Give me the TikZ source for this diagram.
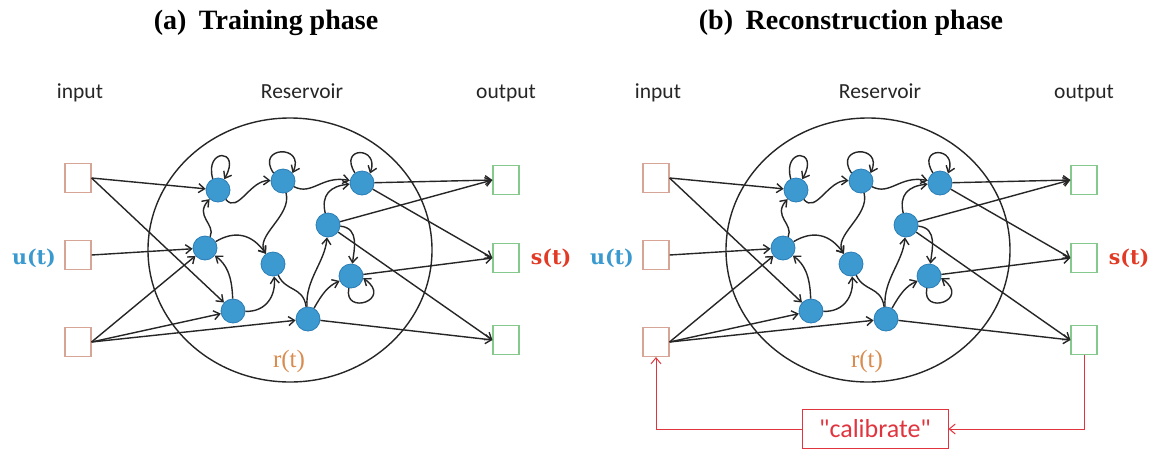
\documentclass[tikz,border=0pt]{standalone}
\usepackage{fontspec}
\setmainfont{Liberation Serif}
\newfontfamily\calfont{Carlito}
\newfontfamily\slabfont{DejaVu Serif}
\usetikzlibrary{arrows.meta}
\definecolor{edgec}{HTML}{262626}
\definecolor{nodeblue}{HTML}{3D9AD1}
\definecolor{nodeedge}{HTML}{2B7DB5}
\definecolor{ublue}{HTML}{3A9AD0}
\definecolor{sred}{HTML}{E23A24}
\definecolor{rorange}{HTML}{D98C4F}
\definecolor{inbrown}{HTML}{D6A596}
\definecolor{outgreen}{HTML}{86C98C}
\definecolor{calred}{HTML}{E0353F}
\tikzset{
  rnode/.style={circle,fill=nodeblue,draw=nodeedge,line width=0.8pt,minimum size=24pt,inner sep=0pt},
  inbox/.style={rectangle,draw=inbrown,line width=1.1pt,minimum width=26pt,minimum height=29pt,inner sep=0pt},
  outbox/.style={rectangle,draw=outgreen,line width=1.1pt,minimum width=26pt,minimum height=29pt,inner sep=0pt},
  link/.style={draw=edgec,line width=1.4pt,-{Straight Barb[length=6pt,width=9pt]}},
  plainlink/.style={draw=edgec,line width=1.4pt},
  lab/.style={font=\calfont\fontsize{21.5}{25}\selectfont,text=black!85,inner sep=0pt},
  ttl/.style={font=\bfseries\fontsize{28}{32}\selectfont,inner sep=0pt},
  utxt/.style={font=\slabfont\bfseries\fontsize{20.5}{24}\selectfont,text=ublue,inner sep=0pt},
  stxt/.style={font=\slabfont\bfseries\fontsize{20.5}{24}\selectfont,text=sred,inner sep=0pt},
  rtxt/.style={font=\fontsize{25}{29}\selectfont,text=rorange,inner sep=0pt},
  calbox/.style={rectangle,draw=calred,line width=1pt,minimum width=146pt,minimum height=39pt,inner sep=0pt,text=calred,font=\calfont\fontsize{26}{30}\selectfont},
  callink/.style={draw=calred,line width=1pt,-{Straight Barb[length=6pt,width=10pt]}},
}
\newcommand\rcpanel[1]{%
  \draw[edgec,line width=1.4pt] (290,250) ellipse [x radius=142, y radius=132];
  \node[lab] (#1tin) at (80,93) {input};
  \node[lab] (#1tres) at (302,91) {Reservoir};
  \node[lab] (#1tout) at (506,93) {output};
  \node[inbox] (#1i1) at (78,178) {};
  \node[inbox] (#1i2) at (78,255) {};
  \node[inbox] (#1i3) at (78,342) {};
  \node[outbox] (#1o1) at (506,180) {};
  \node[outbox] (#1o2) at (506,258) {};
  \node[outbox] (#1o3) at (506,340) {};
  \node[utxt] (#1u) at (34,258) {u(t)};
  \node[stxt] (#1s) at (551,258) {s(t)};
  \node[rtxt] (#1r) at (289,361) {r(t)};
  \node[rnode] (#1n1) at (218,190) {};
  \node[rnode] (#1n2) at (283,181) {};
  \node[rnode] (#1n3) at (362,183) {};
  \node[rnode] (#1n4) at (205,248) {};
  \node[rnode] (#1n5) at (273,264) {};
  \node[rnode] (#1n6) at (328,225) {};
  \node[rnode] (#1n7) at (351,276) {};
  \node[rnode] (#1n8) at (233,311) {};
  \node[rnode] (#1n9) at (308,319) {};
  % inputs
  \draw[link] (#1i1.east) -- (#1n1);
  \draw[link] (#1i1.east) -- (#1n8);
  \draw[link] (#1i2.east) -- (#1n4);
  \draw[link] (#1i3.east) -- (#1n4);
  \draw[link] (#1i3.east) -- (#1n8);
  \draw[link] (#1i3.east) -- (#1n9);
  % outputs
  \draw[link] (#1n3) -- (#1o1.west);
  \draw[link] (#1n3) -- (#1o2.west);
  \draw[link] (#1n6) -- (#1o1.west);
  \draw[link] (#1n6) -- (#1o3.west);
  \draw[link] (#1n7) -- (#1o2.west);
  \draw[link] (#1n9) -- (#1o3.west);
  % self loops
  \draw[link] (#1n1.115) .. controls (204,148) and (242,148) .. (#1n1.60);
  \draw[link] (#1n2.140) .. controls (255,146) and (306,144) .. (#1n2.40);
  \draw[link] (#1n3.125) .. controls (338,146) and (380,146) .. (#1n3.50);
  \draw[link] (#1n7.-100) .. controls (343,316) and (394,300) .. (#1n7.-10);
  % internal
  \draw[link] (#1n1) .. controls (238,214) and (250,180) .. (#1n2);
  \draw[link] (#1n2) .. controls (312,196) and (322,175) .. (#1n3);
  \draw[link] (#1n4) .. controls (216,224) and (194,216) .. (#1n1);
  \draw[link] (#1n4) .. controls (235,230) and (252,234) .. (#1n5);
  \draw[link] (#1n2) .. controls (292,216) and (254,236) .. (#1n5);
  \draw[link] (#1n8) .. controls (232,275) and (226,264) .. (#1n4);
  \draw[link] (#1n8) .. controls (266,312) and (276,296) .. (#1n5);
  \draw[plainlink] (#1n5) .. controls (286,292) and (303,286) .. (#1n9);
  \draw[link] (#1n9) .. controls (305,280) and (325,262) .. (#1n6);
  \draw[link] (#1n9) .. controls (322,294) and (328,286) .. (#1n7);
  \draw[link] (#1n6) .. controls (321,195) and (330,186) .. (#1n3);
  \draw[link] (#1n6) .. controls (360,228) and (354,250) .. (#1n7);
}
\begin{document}
\begin{tikzpicture}[x=1pt,y=-1pt]
  \useasboundingbox (0,0) rectangle (1160,451);
  \fill[white] (0,0) rectangle (1160,451);
  \node[ttl] (ta) at (266,23) {(a)\hspace{0.45em}Training phase};
  \node[ttl] (tb) at (851,23) {(b)\hspace{0.45em}Reconstruction phase};
  \rcpanel{a}
  \begin{scope}[xshift=578pt]
    \rcpanel{b}
  \end{scope}
  \node[calbox] (cal) at (875,429) {"calibrate"};
  \draw[callink] (bo3.south) |- (cal.east);
  \draw[callink] (cal.west) -| (bi3.south);
\end{tikzpicture}
\end{document}
